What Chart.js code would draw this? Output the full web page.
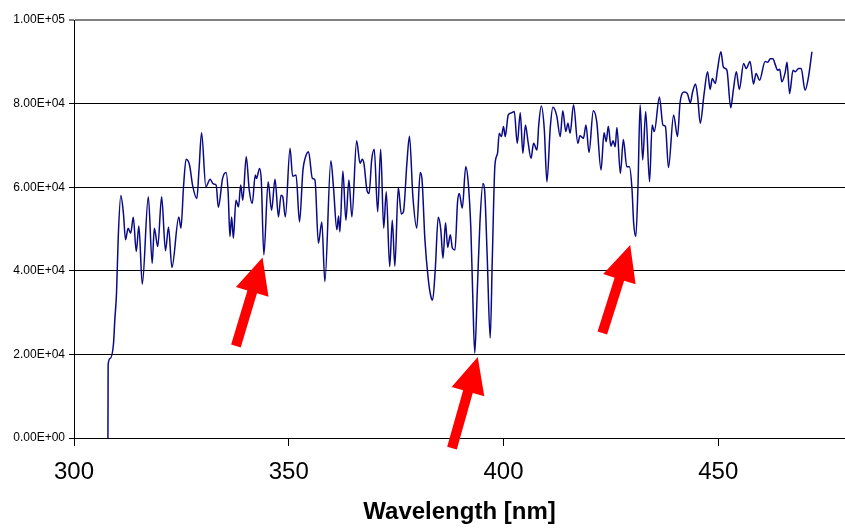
<!DOCTYPE html>
<html>
<head>
<meta charset="utf-8">
<script src="https://cdn.jsdelivr.net/npm/chart.js@4/dist/chart.umd.min.js"></script>
<style>
html,body{margin:0;padding:0;background:#fff;overflow:hidden;}
canvas{display:block;}
</style>
</head>
<body>
<canvas id="c" width="845" height="529"></canvas>
<script>
// ---- data ----
const wavelength = [307.9,307.95,308.4,309.2,309.5,309.9,310.3,310.9,311.5,312.0,
312.6,313.2,313.8,314.5,315.1,315.9,317.3,318.2,318.7,319.5,
320.4,321.3,322.0,322.8,324.4,324.9,325.5,326.1,326.9,327.6,
328.6,329.1,329.7,330.7,331.7,332.4,333.1,333.6,334.6,335.4,
335.9,336.3,336.7,337.1,337.7,338.3,338.8,339.3,340.1,340.8,
341.5,342.2,342.5,343.2,343.6,344.2,345.2,346.0,346.8,347.6,
348.2,348.6,349.2,350.3,350.9,351.7,352.5,353.3,353.8,354.6,
355.5,356.1,356.9,357.7,358.4,359.8,360.4,361.2,361.6,361.9,
362.6,363.3,364.0,364.7,365.8,366.6,367.1,367.5,368.2,368.7,
369.3,369.9,370.7,371.4,372.1,372.7,373.5,374.1,374.7,375.5,
376.2,376.7,377.5,378.1,378.9,379.8,380.6,381.0,381.7,382.5,
383.1,383.5,384.1,384.8,385.4,385.9,386.5,387.0,387.6,388.1,
388.7,389.3,389.7,390.4,391.2,391.8,392.4,392.8,393.3,393.9,
394.5,395.2,395.6,396.2,396.9,397.4,398.0,398.6,399.0,399.5,
400.0,400.4,401.1,401.9,402.5,403.2,403.9,404.5,405.1,405.7,
406.4,407.0,407.8,408.2,408.8,409.5,410.1,410.9,411.5,412.4,
413.2,413.8,414.5,415.0,415.5,416.3,417.3,417.8,418.6,419.2,
419.9,420.9,421.7,422.7,423.4,423.9,424.4,425.0,425.5,426.0,
426.4,427.2,427.9,428.7,429.3,429.9,430.3,430.8,431.3,431.8,
432.4,433.1,434.0,434.6,435.1,436.3,437.1,437.7,438.4,439.6,
440.5,441.1,442.1,442.8,443.5,444.0,444.7,445.2,445.8,446.7,
447.5,448.1,448.6,449.3,449.8,450.6,451.2,452.0,452.9,453.5,
454.2,454.9,455.9,456.5,457.4,458.2,458.8,459.6,460.9,461.5,
462.1,462.7,463.3,463.8,464.3,464.8,465.6,466.0,466.6,467.4,
467.9,468.7,469.3,470.2,471.0,471.8];

const intensity = [0,17500,19000,22600,28200,34700,48000,58000,53800,47400,
50200,49000,52800,44600,50700,36800,57700,41800,50200,45800,
57700,44800,50400,40800,52900,50200,60100,66700,65300,60500,
57300,64100,73000,60100,61900,60800,60500,55200,62100,63500,
58500,48200,52900,47800,56900,55300,60500,56900,67300,59300,
56100,62900,62100,64500,61700,43800,61300,54500,61900,52900,
58100,57700,52900,69300,62600,62900,51700,64100,66900,68500,
62100,61700,46600,51700,37400,66300,60100,49800,53100,49300,
63900,52100,61700,52900,71100,65700,66700,65700,59300,58500,
66500,69100,54100,69100,50200,58900,41000,52100,41100,60000,
53600,54100,65700,72200,57700,50200,63500,62100,47400,37800,
33800,33000,40200,52800,49800,43000,51500,45600,48600,45400,
45000,56500,58500,55000,64900,60900,49800,35400,20300,35400,
51400,60900,59300,43400,23900,43400,65300,68100,72900,72100,
74500,72100,77300,77800,78100,70500,77800,68100,74900,70900,
66900,70500,68900,74900,79400,73700,61300,74500,79100,77000,
72100,78300,73300,75300,72900,79700,70500,72300,71700,74900,
68300,78300,75700,64100,73000,70900,74600,69800,71100,69700,
74300,63300,71400,64900,64900,59700,51400,48200,60100,79700,
66500,78100,61300,74900,73300,81600,74900,74500,64700,77300,
72100,80200,82800,82400,80200,82700,84700,81600,75300,82400,
87600,83400,86000,84800,88000,92400,88700,88000,79000,83200,
87600,83400,89600,88400,90100,84700,87200,85600,90100,89900,
90700,90700,89200,88000,88200,85200,87600,89900,82400,88000,
87600,88400,88400,83200,86400,92400];

const xTickValues = [300, 350, 400, 450];
const yTickValues = [0, 20000, 40000, 60000, 80000, 100000];
const yTickLabels = ['0.00E+00', '2.00E+04', '4.00E+04', '6.00E+04', '8.00E+04', '1.00E+05'];
const xTitle = 'Wavelength [nm]';

// red arrow annotations (tail -> tip, in data units)
const arrowTailX = [337.7, 388.0, 423.0];
const arrowTailY = [22000, -2400, 25100];
const arrowTipX  = [343.9, 394.0, 429.5];
const arrowTipY  = [43200, 19400, 46200];

// ---- chart ----
const points = [];
for (let i = 0; i < Math.min(wavelength.length, intensity.length); i++) {
  points.push({x: wavelength[i], y: intensity[i]});
}

const FONT = "'Liberation Sans', Arial, Helvetica, sans-serif";

const arrowPlugin = {
  id: 'arrows',
  afterDraw(chart) {
    const ctx = chart.ctx, xs = chart.scales.x, ys = chart.scales.y;
    ctx.save();
    ctx.fillStyle = '#ff0000';
    for (let i = 0; i < arrowTipX.length; i++) {
      const x0 = xs.getPixelForValue(arrowTailX[i]), y0 = ys.getPixelForValue(arrowTailY[i]);
      const x1 = xs.getPixelForValue(arrowTipX[i]),  y1 = ys.getPixelForValue(arrowTipY[i]);
      const dx = x1 - x0, dy = y1 - y0, len = Math.hypot(dx, dy);
      const ux = dx / len, uy = dy / len, px = -uy, py = ux;
      const headL = 36, headW = 34, shaftW = 10;
      const bx = x1 - ux * headL, by = y1 - uy * headL;
      ctx.beginPath();
      ctx.moveTo(x0 + px * shaftW / 2, y0 + py * shaftW / 2);
      ctx.lineTo(bx + px * shaftW / 2, by + py * shaftW / 2);
      ctx.lineTo(bx + px * headW / 2, by + py * headW / 2);
      ctx.lineTo(x1, y1);
      ctx.lineTo(bx - px * headW / 2, by - py * headW / 2);
      ctx.lineTo(bx - px * shaftW / 2, by - py * shaftW / 2);
      ctx.lineTo(x0 - px * shaftW / 2, y0 - py * shaftW / 2);
      ctx.closePath();
      ctx.fill();
    }
    ctx.restore();
  }
};

new Chart(document.getElementById('c'), {
  type: 'line',
  data: {
    datasets: [{
      data: points,
      borderColor: '#0a0a86',
      borderWidth: 1.5,
      pointRadius: 0,
      fill: false,
      cubicInterpolationMode: 'monotone'
    }]
  },
  options: {
    responsive: false,
    animation: false,
    events: [],
    layout: {padding: {top: 20, right: 0, bottom: 0, left: 0}},
    plugins: {legend: {display: false}, tooltip: {enabled: false}},
    scales: {
      x: {
        type: 'linear',
        min: 300,
        max: 479.5,
        afterBuildTicks(scale) { scale.ticks = xTickValues.map(v => ({value: v})); },
        afterFit(scale) { scale.height = 91; },
        ticks: {
          color: '#000',
          font: {family: FONT, size: 24},
          padding: 12,
          maxRotation: 0,
          autoSkip: false,
          callback: v => String(v)
        },
        grid: {drawOnChartArea: false, drawTicks: true, tickLength: 8, color: '#000', lineWidth: 1},
        border: {color: '#000', width: 1},
        title: {
          display: true,
          text: xTitle,
          color: '#000',
          font: {family: FONT, size: 24, weight: 'bold'},
          padding: {top: 0, bottom: 2}
        }
      },
      y: {
        type: 'linear',
        min: 0,
        max: 100000,
        afterBuildTicks(scale) { scale.ticks = yTickValues.map(v => ({value: v})); },
        afterFit(scale) { scale.width = 74; },
        ticks: {
          color: '#000',
          font: {family: FONT, size: 12},
          padding: 4,
          autoSkip: false,
          callback: (v) => yTickLabels[yTickValues.indexOf(v)]
        },
        grid: {
          color: ctx => (ctx.tick && ctx.tick.value === 100000) ? '#808080' : '#000',
          lineWidth: ctx => (ctx.tick && ctx.tick.value === 100000) ? 2 : 1,
          tickLength: 5
        },
        border: {color: '#000', width: 1}
      }
    }
  },
  plugins: [arrowPlugin]
});
</script>
</body>
</html>
